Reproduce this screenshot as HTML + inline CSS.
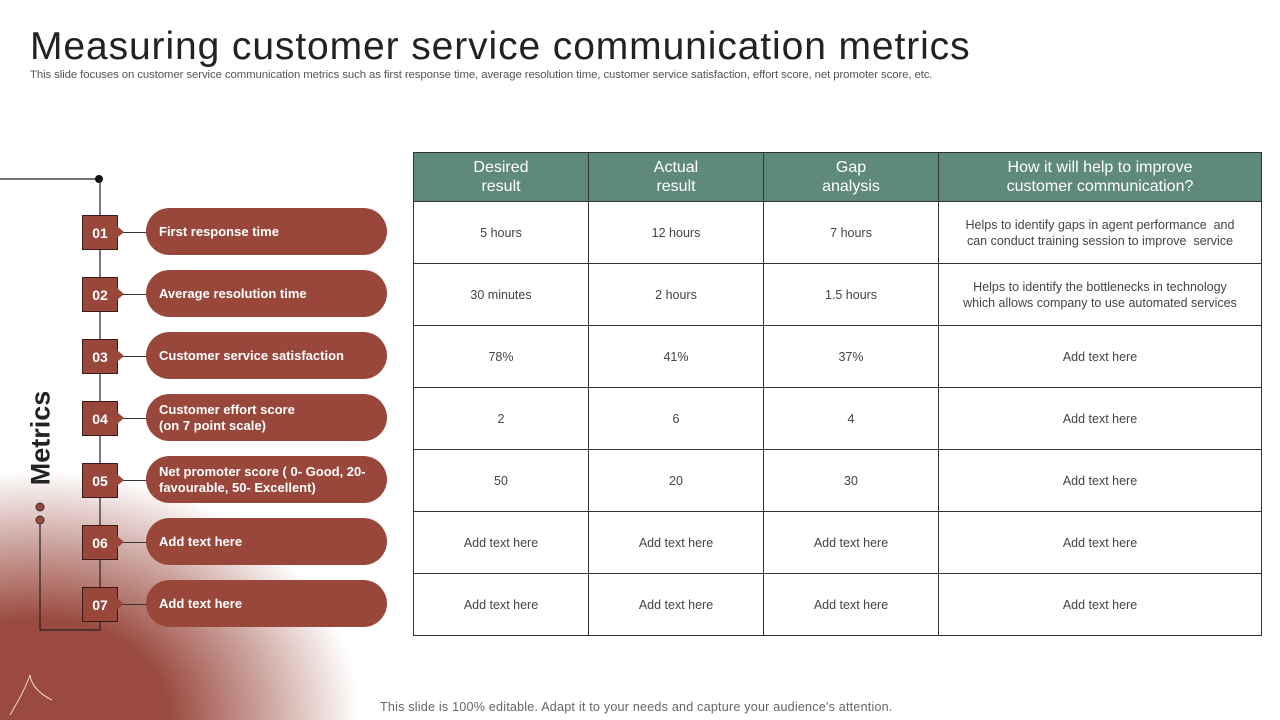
<!DOCTYPE html>
<html><head><meta charset="utf-8"><style>
body{margin:0;width:1280px;height:720px;overflow:hidden;font-family:"Liberation Sans",sans-serif;background:#fff;position:relative}
.bg{position:absolute;left:0;top:0;width:1280px;height:720px;background:radial-gradient(ellipse 320px 250px at 40px 720px,#9a4a3f 0%,#9a4a3f 40%,rgba(154,74,63,0.55) 68%,rgba(255,255,255,0) 100%)}
h1{position:absolute;left:30px;top:25px;margin:0;font-weight:400;font-size:39px;color:#222;letter-spacing:0.9px}
.sub{position:absolute;left:30px;top:69px;font-size:11.4px;color:#555;letter-spacing:-0.1px}
.box{position:absolute;left:82px;width:34px;height:33px;background:#9a473b;border:1px solid #3a1a15;color:#fff;font-weight:bold;font-size:14px;display:flex;align-items:center;justify-content:center}
.arr{position:absolute;left:117px;width:0;height:0;border-top:6px solid transparent;border-bottom:6px solid transparent;border-left:7px solid #9a473b}
.conn{position:absolute;left:122px;width:25px;height:1px;background:#333}
.pill{position:absolute;left:146px;width:241px;height:47px;border-radius:24px;background:#9a473b;color:#fff;font-weight:bold;font-size:13px;display:flex;align-items:center;padding-left:13px;box-sizing:border-box;line-height:16px}
table{position:absolute;left:413px;top:152px;border-collapse:collapse;font-size:12.5px;color:#444;table-layout:fixed;width:848px}
th{background:#5f8a7a;color:#fff;font-weight:400;font-size:16px;height:48px;border:1px solid #333;line-height:19px;padding:0}
td{height:61px;border:1px solid #333;text-align:center;background:rgba(255,255,255,0.9);padding:0;line-height:16px}
.foot{position:absolute;top:700px;left:380px;font-size:12.6px;color:#666;letter-spacing:0.2px}
.met{position:absolute;left:41px;top:438px;transform:translate(-50%,-50%) rotate(-90deg);font-size:27px;font-weight:bold;color:#222;white-space:nowrap}
</style></head><body>
<div class="bg"></div>
<h1>Measuring customer service communication metrics</h1>
<div class="sub">This slide focuses on customer service communication metrics such as first response time, average resolution time, customer service satisfaction, effort score, net promoter score, etc.</div>
<svg style="position:absolute;left:0;top:0" width="420" height="720">
<line x1="0" y1="179" x2="100" y2="179" stroke="#222" stroke-width="1.2"/>
<circle cx="99" cy="179" r="4" fill="#111"/>
<line x1="100" y1="179" x2="100" y2="630" stroke="#222" stroke-width="1.2"/>
<polyline points="100,630 40,630 40,520" fill="none" stroke="#222" stroke-width="1.2"/>
<circle cx="40" cy="507" r="4" fill="#9a473b" stroke="#333"/>
<circle cx="40" cy="520" r="4" fill="#9a473b" stroke="#333"/>
<path d="M10 715 Q25 690 30 675 Q32 690 52 700" fill="none" stroke="#f3d8d0" stroke-width="1"/>
</svg>
<div class="met">Metrics</div>
<div id="rows"></div>
<table>
<colgroup><col style="width:175px"><col style="width:175px"><col style="width:175px"><col style="width:323px"></colgroup>
<tr><th>Desired<br>result</th><th>Actual<br>result</th><th>Gap<br>analysis</th><th>How it will help to improve<br>customer communication?</th></tr>
<tr><td>5 hours</td><td>12 hours</td><td>7 hours</td><td>Helps to identify gaps in agent performance &nbsp;and<br>can conduct training session to improve &nbsp;service</td></tr>
<tr><td>30 minutes</td><td>2 hours</td><td>1.5 hours</td><td>Helps to identify the bottlenecks in technology<br>which allows company to use automated services</td></tr>
<tr><td>78%</td><td>41%</td><td>37%</td><td>Add text here</td></tr>
<tr><td>2</td><td>6</td><td>4</td><td>Add text here</td></tr>
<tr><td>50</td><td>20</td><td>30</td><td>Add text here</td></tr>
<tr><td>Add text here</td><td>Add text here</td><td>Add text here</td><td>Add text here</td></tr>
<tr><td>Add text here</td><td>Add text here</td><td>Add text here</td><td>Add text here</td></tr>
</table>
<div class="foot">This slide is 100% editable. Adapt it to your needs and capture your audience's attention.</div>
<script>
const labels=["First response time","Average resolution time","Customer service satisfaction","Customer effort score<br>(on 7 point scale)","Net promoter score ( 0- Good, 20-<br>favourable, 50- Excellent)","Add text here","Add text here"];
const c=document.getElementById('rows');
labels.forEach((t,i)=>{
 const cy=232+62*i;
 const b=document.createElement('div');b.className='box';b.style.top=(cy-17)+'px';b.textContent='0'+(i+1);
 
 
 const a=document.createElement('div');a.className='arr';a.style.top=(cy-6)+'px';
 
 
 const l=document.createElement('div');l.className='conn';l.style.top=cy+'px';
 
 
 const p=document.createElement('div');p.className='pill';p.style.top=(cy-24)+'px';p.innerHTML=t;
 
 
 c.append(l,b,a,p);
});
</script>
</body></html>
